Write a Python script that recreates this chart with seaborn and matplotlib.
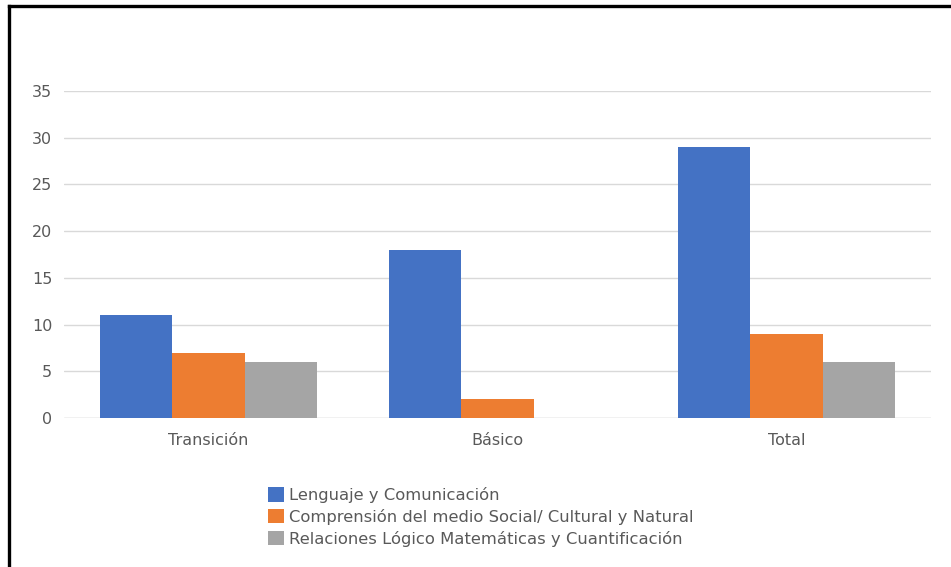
import matplotlib
matplotlib.use("Agg")
import matplotlib.pyplot as plt
import seaborn as sns
import pandas as pd
from matplotlib.lines import Line2D
from matplotlib.patches import Patch

categories = ["Transición", "Básico", "Total"]
series = ["Lenguaje y Comunicación",
          "Comprensión del medio Social/ Cultural y Natural",
          "Relaciones Lógico Matemáticas y Cuantificación"]
lenguaje = [11, 18, 29]
comprension = [7, 2, 9]
relaciones = [6, 0, 6]
colors = ["#4472C4", "#ED7D31", "#A5A5A5"]
yticks = [0, 5, 10, 15, 20, 25, 30, 35]

rows = []
for s, vals in zip(series, [lenguaje, comprension, relaciones]):
    for c, v in zip(categories, vals):
        rows.append({"Categoría": c, "Serie": s, "Valor": v})
df = pd.DataFrame(rows)

sns.set_theme(style="white")
plt.rcParams['font.family'] = ['DejaVu Sans']

fig = plt.figure(figsize=(9.51, 5.67), dpi=100)
ax = fig.add_axes([64/951, 1-418/567, (931-64)/951, (418-91)/567])

sns.barplot(data=df, x="Categoría", y="Valor", hue="Serie", order=categories,
            hue_order=series, palette=colors, width=0.75, gap=0,
            saturation=1, ax=ax, legend=False, linewidth=0)

ax.set_xlim(-0.5, 2.5)
ax.set_ylim(0, 35)
ax.set_yticks(yticks)
ax.yaxis.grid(True, color="#D9D9D9", linewidth=1)
ax.set_axisbelow(True)
for sp in ax.spines.values():
    sp.set_visible(False)
ax.set_xlabel("")
ax.set_ylabel("")
ax.tick_params(axis="both", length=0, labelsize=11.5, colors="#595959")
ax.tick_params(axis="y", pad=8.5)
ax.tick_params(axis="x", pad=11)
ax.axhline(0, color="#D9D9D9", linewidth=1, zorder=0)

handles = [Patch(facecolor=c, edgecolor="none") for c in colors]
fig.legend(handles, series, loc="upper left", bbox_to_anchor=(260/951, 1-479/567),
           frameon=False, fontsize=11.8, handlelength=0.95, handleheight=0.95,
           handletextpad=0.3, labelspacing=0.35, borderpad=0,
           labelcolor="#595959")

# Outer frame (left and top)
fig.add_artist(Line2D([8.5/951, 8.5/951], [0, 1-5.5/567], transform=fig.transFigure,
                      color="black", linewidth=2.4, solid_capstyle="projecting"))
fig.add_artist(Line2D([8.5/951, 1.0], [1-5.5/567, 1-5.5/567], transform=fig.transFigure,
                      color="black", linewidth=2.4, solid_capstyle="projecting"))

fig.savefig("out.png", dpi=100)
